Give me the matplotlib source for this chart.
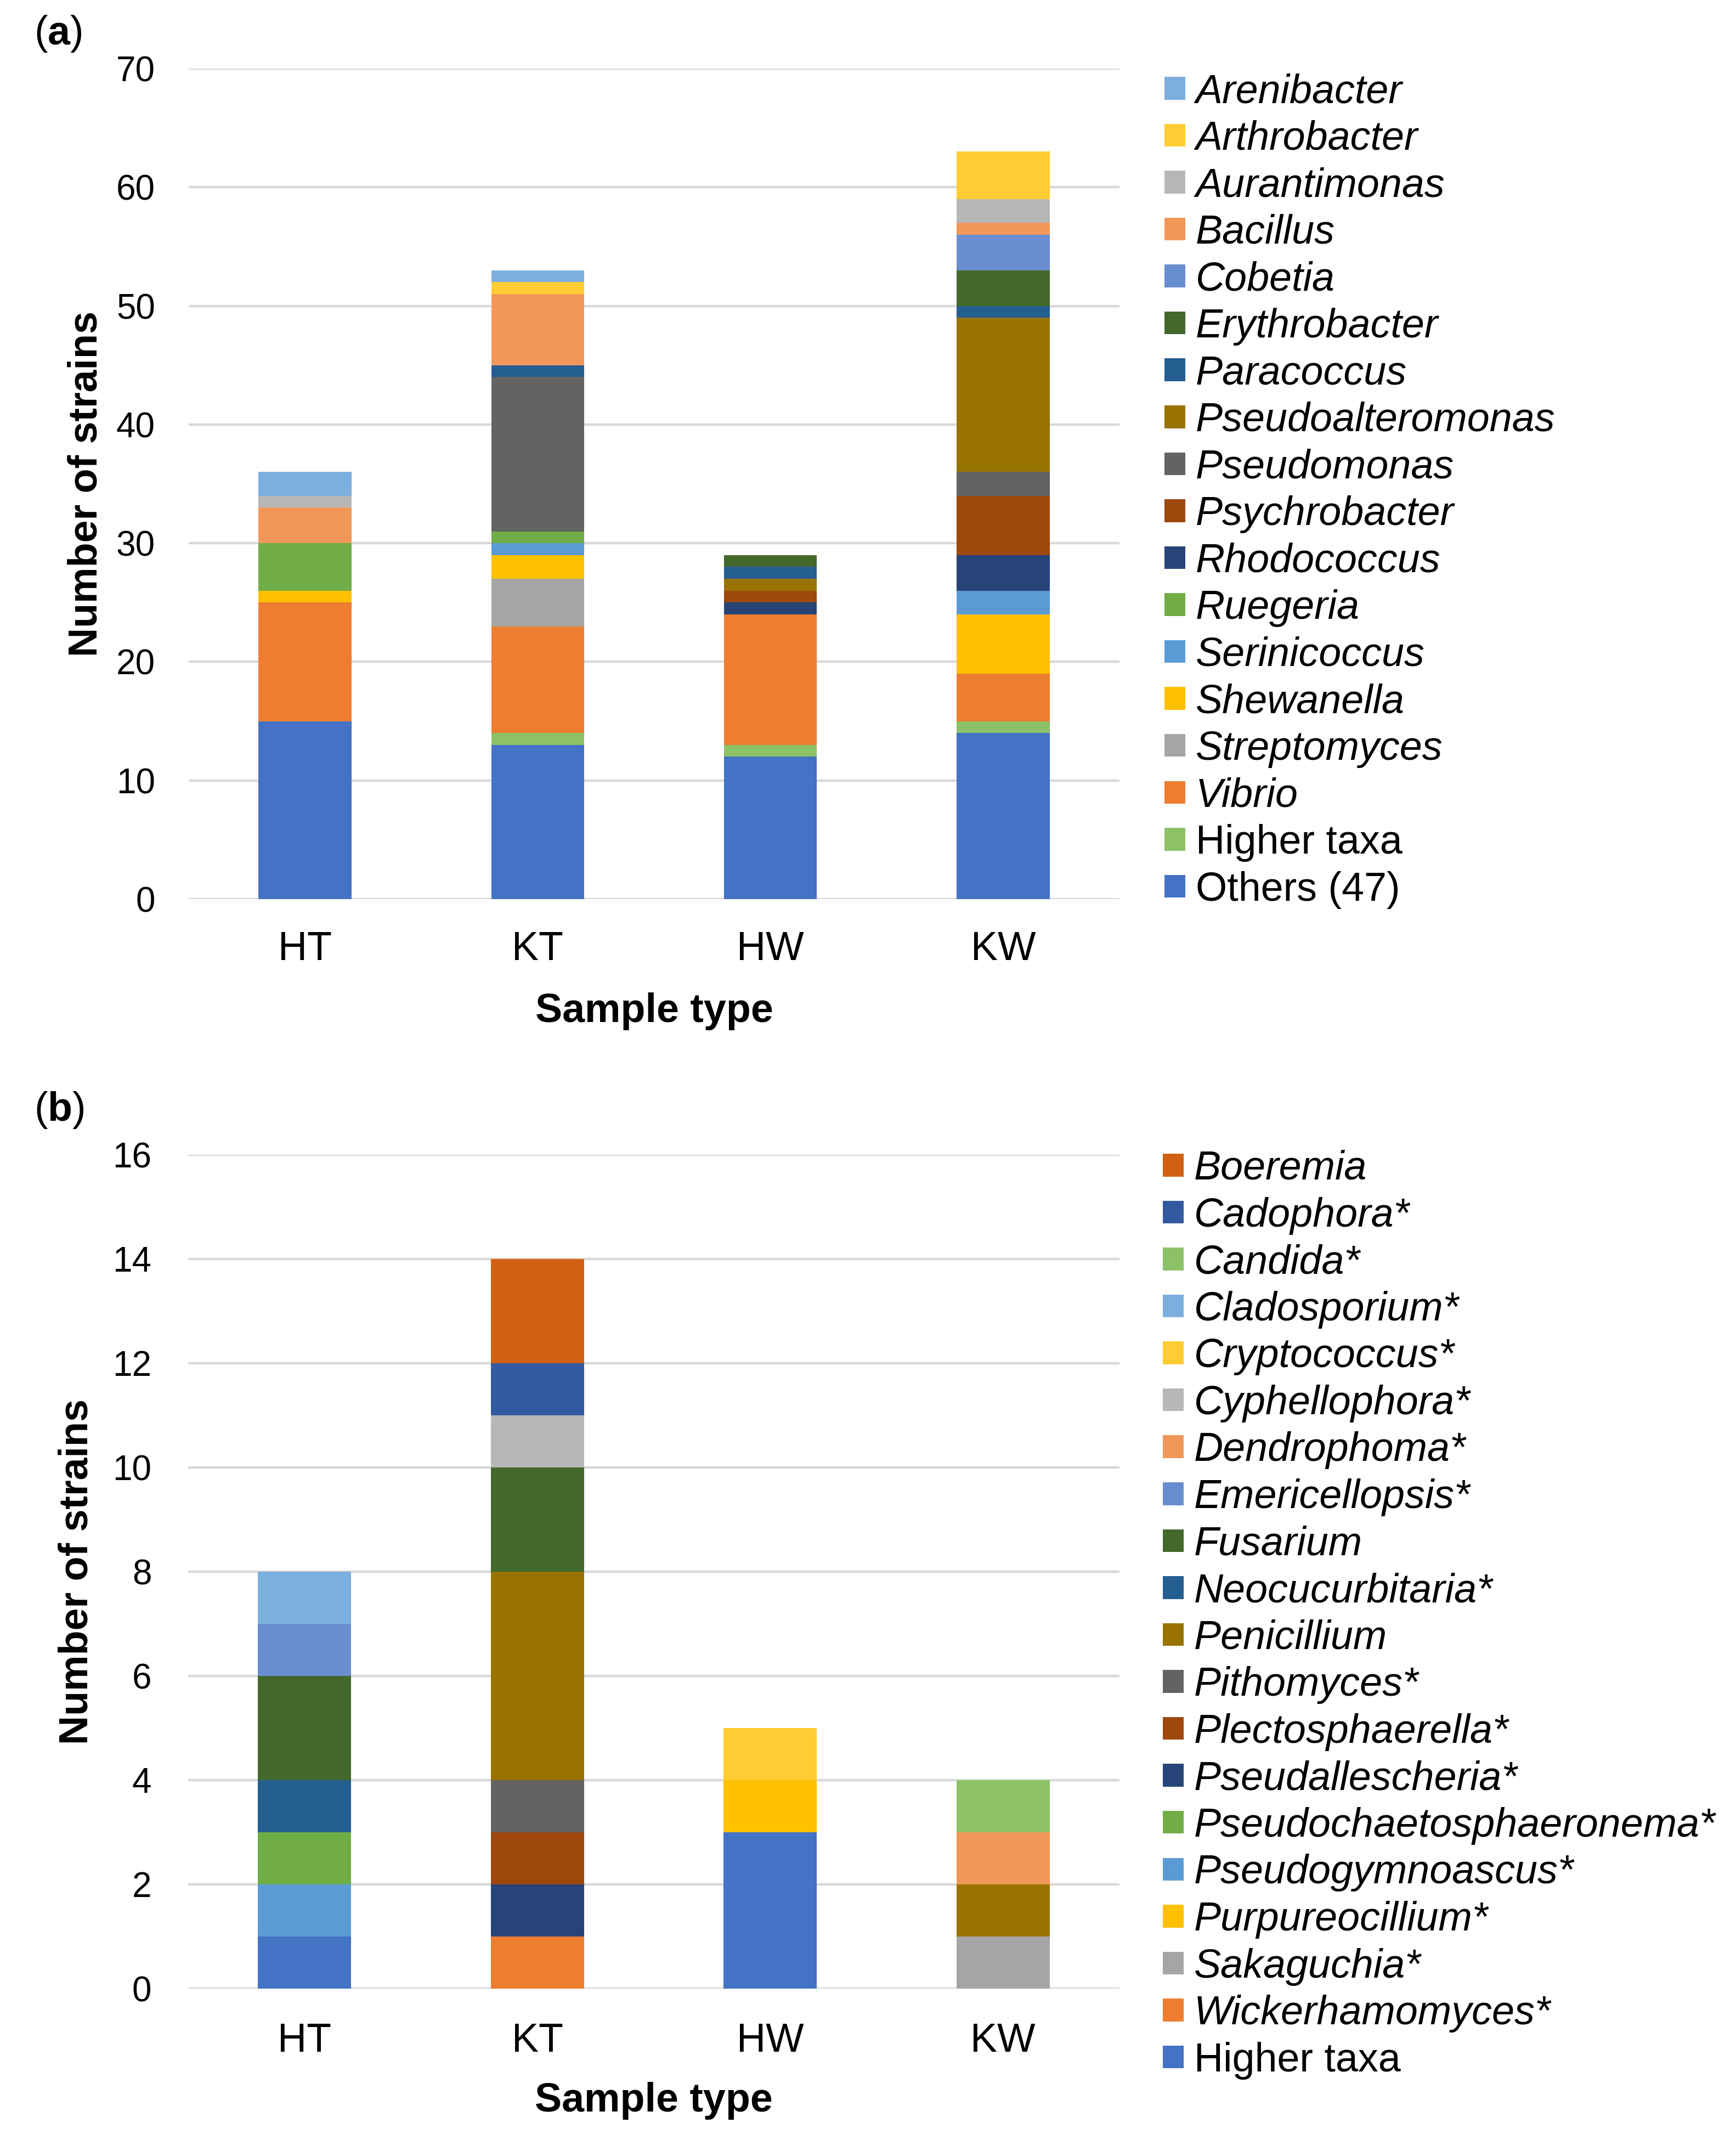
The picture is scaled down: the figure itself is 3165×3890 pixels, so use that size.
"""Stacked bar charts of bacterial (a) and fungal (b) strains per sample type."""
import matplotlib

matplotlib.use("Agg")
import matplotlib.pyplot as plt
import numpy as np

plt.rcParams["font.family"] = ["Liberation Sans", "DejaVu Sans"]
plt.rcParams["mathtext.fontset"] = "custom"
plt.rcParams["mathtext.rm"] = "Liberation Sans"
plt.rcParams["mathtext.bf"] = "Liberation Sans:bold"

SAMPLES = ["HT", "KT", "HW", "KW"]

# Panel (a): bacteria, stacking order bottom -> top
BACT_TAXA = ["Others (47)", "Higher taxa", "Vibrio", "Streptomyces", "Shewanella",
             "Serinicoccus", "Ruegeria", "Rhodococcus", "Psychrobacter", "Pseudomonas",
             "Pseudoalteromonas", "Paracoccus", "Erythrobacter", "Cobetia", "Bacillus",
             "Aurantimonas", "Arthrobacter", "Arenibacter"]
BACT_COUNTS = [
    [15, 13, 12, 14],  # Others (47)
    [0, 1, 1, 1],      # Higher taxa
    [10, 9, 11, 4],    # Vibrio
    [0, 4, 0, 0],      # Streptomyces
    [1, 2, 0, 5],      # Shewanella
    [0, 1, 0, 2],      # Serinicoccus
    [4, 1, 0, 0],      # Ruegeria
    [0, 0, 1, 3],      # Rhodococcus
    [0, 0, 1, 5],      # Psychrobacter
    [0, 13, 0, 2],     # Pseudomonas
    [0, 0, 1, 13],     # Pseudoalteromonas
    [0, 1, 1, 1],      # Paracoccus
    [0, 0, 1, 3],      # Erythrobacter
    [0, 0, 0, 3],      # Cobetia
    [3, 6, 0, 1],      # Bacillus
    [1, 0, 0, 2],      # Aurantimonas
    [0, 1, 0, 4],      # Arthrobacter
    [2, 1, 0, 0],      # Arenibacter
]
BACT_COLORS = ["#4472C4", "#8CC168", "#ED7D31", "#A5A5A5", "#FFC000", "#5B9BD5",
               "#70AD47", "#264478", "#9E480E", "#636363", "#997300", "#255E91",
               "#43682B", "#698ED0", "#F1975A", "#B7B7B7", "#FFCD33", "#7CAFDD"]

# Panel (b): fungi, stacking order bottom -> top
FUNGI_TAXA = ["Higher taxa", "Wickerhamomyces*", "Sakaguchia*", "Purpureocillium*",
              "Pseudogymnoascus*", "Pseudochaetosphaeronema*", "Pseudallescheria*",
              "Plectosphaerella*", "Pithomyces*", "Penicillium", "Neocucurbitaria*",
              "Fusarium", "Emericellopsis*", "Dendrophoma*", "Cyphellophora*",
              "Cryptococcus*", "Cladosporium*", "Candida*", "Cadophora*", "Boeremia"]
FUNGI_COUNTS = [
    [1, 0, 3, 0],  # Higher taxa
    [0, 1, 0, 0],  # Wickerhamomyces
    [0, 0, 0, 1],  # Sakaguchia
    [0, 0, 1, 0],  # Purpureocillium
    [1, 0, 0, 0],  # Pseudogymnoascus
    [1, 0, 0, 0],  # Pseudochaetosphaeronema
    [0, 1, 0, 0],  # Pseudallescheria
    [0, 1, 0, 0],  # Plectosphaerella
    [0, 1, 0, 0],  # Pithomyces
    [0, 4, 0, 1],  # Penicillium
    [1, 0, 0, 0],  # Neocucurbitaria
    [2, 2, 0, 0],  # Fusarium
    [1, 0, 0, 0],  # Emericellopsis
    [0, 0, 0, 1],  # Dendrophoma
    [0, 1, 0, 0],  # Cyphellophora
    [0, 0, 1, 0],  # Cryptococcus
    [1, 0, 0, 0],  # Cladosporium
    [0, 0, 0, 1],  # Candida
    [0, 1, 0, 0],  # Cadophora
    [0, 2, 0, 0],  # Boeremia
]
FUNGI_COLORS = ["#4472C4", "#ED7D31", "#A5A5A5", "#FFC000", "#5B9BD5", "#70AD47",
                "#264478", "#9E480E", "#636363", "#997300", "#255E91", "#43682B",
                "#698ED0", "#F1975A", "#B7B7B7", "#FFCD33", "#7CAFDD", "#8CC168",
                "#335AA1", "#D26012"]

W, H, DPI = 3165, 3890, 100
GRID = "#D9D9D9"


def stacked_panel(fig, rect, taxa, counts, colors, ymax, ystep, leg_xy, ylab_x, xt_pad, yt_pad):
    ax = fig.add_axes(rect)
    x = np.arange(len(SAMPLES))
    bottom = np.zeros(len(SAMPLES))
    for name, vals, c in zip(taxa, counts, colors):
        vals = np.asarray(vals, dtype=float)
        ax.bar(x, vals, width=0.4, bottom=bottom, color=c, linewidth=0, label=name, zorder=2)
        bottom += vals

    ax.set_xlim(-0.5, len(SAMPLES) - 0.5)
    ax.set_ylim(0, ymax)
    ax.set_yticks(np.arange(0, ymax + 1, ystep))
    ax.set_xticks(x)
    ax.set_xticklabels(SAMPLES)
    ax.grid(axis="y", color=GRID, lw=3.2, zorder=0)
    ax.set_axisbelow(True)
    for s in ax.spines.values():
        s.set_visible(False)
    ax.tick_params(axis="both", length=0)
    ax.tick_params(axis="x", labelsize=53, pad=xt_pad)
    ax.tick_params(axis="y", labelsize=46, pad=yt_pad)

    ax.set_xlabel("Sample type", fontsize=53, fontweight="bold")
    ax.xaxis.set_label_coords(0.5, -0.112)
    ax.set_ylabel("Number of strains", fontsize=53, fontweight="bold")
    ax.yaxis.set_label_coords(ylab_x, 0.5)

    handles, labels = ax.get_legend_handles_labels()
    leg = ax.legend(handles[::-1], labels[::-1], loc="upper left",
                    bbox_to_anchor=leg_xy, bbox_transform=fig.transFigure,
                    frameon=False, fontsize=53, borderpad=0, borderaxespad=0,
                    handlelength=0.51, handleheight=0.49, handletextpad=0.26,
                    labelspacing=0.225)
    for t in leg.get_texts():
        if t.get_text() not in ("Higher taxa", "Others (47)"):
            t.set_fontstyle("italic")
    return ax


fig = plt.figure(figsize=(W / DPI, H / DPI), dpi=DPI)

# axes rectangles from pixel positions of the reference
ax_a = stacked_panel(fig, [344 / W, 1 - 1639 / H, 1697 / W, 1514 / H],
                     BACT_TAXA, BACT_COUNTS, BACT_COLORS, 70, 10,
                     (2123 / W, 1 - 133 / H), -0.0896, 41, 44)
ax_b = stacked_panel(fig, [343 / W, 1 - 3625 / H, 1698 / W, 1520 / H],
                     FUNGI_TAXA, FUNGI_COUNTS, FUNGI_COLORS, 16, 2,
                     (2120 / W, 1 - 2096 / H), -0.0995, 44, 48)

fig.text(62 / W, 1 - 62 / H, r"($\mathbf{a}$)", fontsize=53, ha="left", va="center")
fig.text(62 / W, 1 - 2024 / H, r"($\mathbf{b}$)", fontsize=53, ha="left", va="center")

fig.savefig("out.png", dpi=DPI)
